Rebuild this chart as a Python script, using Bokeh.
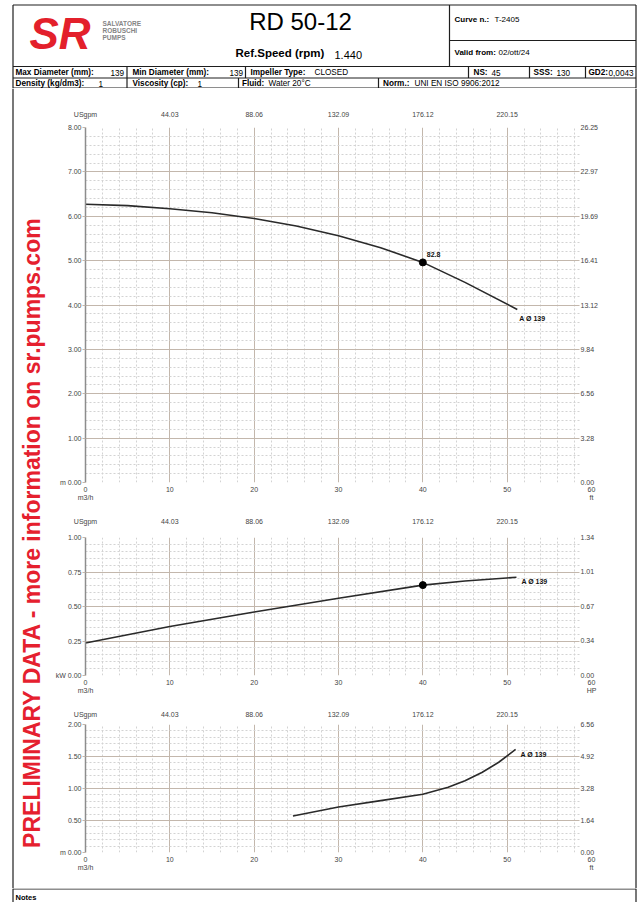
import math
from bokeh.plotting import figure
from bokeh.layouts import column, row
from bokeh.models import Range1d, FixedTicker, LinearAxis, Grid, BoxAnnotation, NumeralTickFormatter
from bokeh.embed import file_html
from bokeh.resources import INLINE
from bokeh.core.properties import value

# ---------------- data ----------------
flow_ticks = [0, 10, 20, 30, 40, 50, 60]              # m3/h
usgpm_ticks = [0, 44.03, 88.06, 132.09, 176.12, 220.15]  # USgpm (top axis)
usgpm_max = 264.18
head_ticks = [0, 1, 2, 3, 4, 5, 6, 7, 8]              # m
head_ft_ticks = [0.00, 3.28, 6.56, 9.84, 13.12, 16.41, 19.69, 22.97, 26.25]
power_ticks = [0, 0.25, 0.5, 0.75, 1.0]               # kW
power_hp_ticks = [0.00, 0.34, 0.67, 1.01, 1.34]
npsh_ticks = [0, 0.5, 1.0, 1.5, 2.0]                  # m
npsh_ft_ticks = [0.00, 1.64, 3.28, 4.92, 6.56]

head_q = [0, 5, 10, 15, 20, 25, 30, 35, 40, 45, 51.2]
head_m = [6.27, 6.24, 6.17, 6.08, 5.95, 5.78, 5.56, 5.29, 4.96, 4.51, 3.90]
power_q = [0, 10, 20, 30, 40, 45, 51.1]
power_kw = [0.235, 0.355, 0.46, 0.56, 0.655, 0.685, 0.712]
npsh_q = [24.6, 30, 35, 40, 43, 45, 47, 49, 51.0]
npsh_m = [0.57, 0.71, 0.81, 0.91, 1.02, 1.12, 1.25, 1.41, 1.61]
duty_q = [40]
duty_head = [4.96]
duty_power = [0.655]
duty_eff = ["82.8"]
curve_name = ["A Ø 139"]

title_text = "RD 50-12"
speed_label, speed_value = "Ref.Speed (rpm)", "1.440"
curve_label, curve_value = "Curve n.:", "T-2405"
valid_label, valid_value = "Valid from:", "02/ott/24"
row2_labels = ["Max Diameter (mm):", "Min Diameter (mm):", "Impeller Type:", "NS:", "SSS:", "GD2:"]
row2_values = ["139", "139", "CLOSED", "45", "130", "0,0043"]
row3_labels = ["Density (kg/dm3):", "Viscosity (cp):", "Fluid:", "Norm.:"]
row3_values = ["1", "1", "Water 20°C", "UNI EN ISO 9906:2012"]
logo_lines = ["SALVATORE", "ROBUSCHI", "PUMPS"]
watermark = "PRELIMINARY DATA - more information on sr.pumps.com"
notes_text = "Notes"

# ---------------- style ----------------
FONT_NAME = "Liberation Sans"
FONT = value(FONT_NAME)
BORDER = "#1e1e1e"
GRID_MAJOR = "#c3b7ac"
GRID_MINOR = "#d3d3d3"
LABEL_C = "#444444"
CURVE_C = "#2a2a2a"


def canvas(w, h, x0, x1, y0, y1):
    p = figure(width=w, height=h, x_range=Range1d(x0, x1), y_range=Range1d(y1, y0),
               min_border=0, toolbar_location=None, output_backend="svg",
               x_axis_location=None, y_axis_location=None, outline_line_color=None)
    p.xgrid.visible = False
    p.ygrid.visible = False
    return p


def txt(p, x, y, t, size="8px", bold=False, color="black", align="left", angle=0.0, style=None):
    p.text(x=x, y=y, text=t, text_font=FONT, text_font_size=size,
           text_font_style=style or ("bold" if bold else "normal"), text_color=color,
           text_align=align, text_baseline="middle", angle=angle)


# ---------------- header ----------------
L, R = 12.5, 635.5
hd = canvas(640, 88, 0, 640, 0, 88)
hd.segment(x0=[L, L, R, 449, 449, L, L, L], y0=[4.5, 4.5, 4.5, 4.5, 40, 66, 77.5, 87.5],
           x1=[R, L, R, 449, R, R, R, R], y1=[4.5, 88, 88, 66, 40, 66, 77.5, 87.5],
           line_color=BORDER, line_width=1.2)
hd.segment(x0=[126.5, 245, 468, 529, 585], y0=[66] * 5, x1=[126.5, 245, 468, 529, 585], y1=[77.5] * 5,
           line_color=BORDER, line_width=1.2)
hd.segment(x0=[126.5, 238, 378], y0=[77.5] * 3, x1=[126.5, 238, 378], y1=[87.5] * 3,
           line_color=BORDER, line_width=1.2)
# logo
txt(hd, [29], [33], ["SR"], size="44px", style="bold italic", color="#e3202b")
txt(hd, [102, 102, 102], [23, 30, 37], logo_lines, size="6.5px", bold=True, color="#858585")
# title block
txt(hd, [300], [21], [title_text], size="24px", align="center")
txt(hd, [235], [52], [speed_label], size="11.5px", bold=True)
txt(hd, [334], [54], [speed_value], size="11px")
txt(hd, [454], [19], [curve_label], size="8px", bold=True)
txt(hd, [494], [19], [curve_value], size="8px")
txt(hd, [454], [52], [valid_label], size="8px", bold=True)
txt(hd, [498], [52], [valid_value], size="8px")
txt(hd, [15, 132, 250, 473, 533, 588], [72] * 6, row2_labels, size="8.2px", bold=True)
txt(hd, [110, 229, 314, 491, 556, 608], [72] * 6, row2_values, size="8.2px")
txt(hd, [15, 132, 241.5, 382.5], [83] * 4, row3_labels, size="8.2px", bold=True)
txt(hd, [98, 197, 268, 414], [83] * 4, row3_values, size="8.2px")

# ---------------- watermark + right border ----------------
wm = canvas(50, 800, 0, 50, 88, 888)
wm.segment(x0=[L], y0=[88], x1=[L], y1=[888], line_color=BORDER, line_width=1.2)
txt(wm, [31], [532], [watermark], size="23px", bold=True, color="#e5202e", align="center", angle=math.pi / 2)

rb = canvas(8, 800, 632, 640, 88, 888)
rb.segment(x0=[R], y0=[88], x1=[R], y1=[888], line_color=BORDER, line_width=1.2)


# ---------------- charts ----------------
def chart(height, b_top, b_bottom, y_ticks, right_ticks, left_unit, right_unit, top_standoff):
    y_end = y_ticks[-1]
    step = y_ticks[1] - y_ticks[0]
    p = figure(width=582, height=height, x_range=Range1d(0, 60), y_range=Range1d(0, y_end),
               min_border_left=35, min_border_right=41, min_border_top=b_top, min_border_bottom=b_bottom,
               x_axis_location=None, y_axis_location=None, toolbar_location=None,
               output_backend="svg", outline_line_color=None)
    p.xgrid.visible = False
    p.ygrid.visible = False
    p.extra_x_ranges = {"gpm": Range1d(0, usgpm_max)}
    p.extra_y_ranges = {"right": Range1d(0, right_ticks[-1])}

    minor_x = [v for v in range(2, 60, 2) if v % 10]
    minor_y = [round(i * step / 5, 4) for i in range(1, int(round(y_end / step * 5))) if i % 5]
    xg = Grid(dimension=0, ticker=FixedTicker(ticks=flow_ticks, minor_ticks=minor_x),
              grid_line_color=GRID_MAJOR, grid_line_width=1,
              minor_grid_line_color=GRID_MINOR, minor_grid_line_dash="2 2")
    yg = Grid(dimension=1, ticker=FixedTicker(ticks=y_ticks, minor_ticks=minor_y),
              grid_line_color=GRID_MAJOR, grid_line_width=1,
              minor_grid_line_color=GRID_MINOR, minor_grid_line_dash="2 2")
    p.add_layout(xg)
    p.add_layout(yg)
    try:
        yg.cross_bounds = (0, 58.6)
    except Exception:
        p.add_layout(BoxAnnotation(left=58.6, fill_color="white", fill_alpha=1,
                                   line_color=None, level="underlay"))

    lab = dict(major_label_text_font=FONT_NAME, major_label_text_font_size="7px",
               major_label_text_color=LABEL_C, minor_tick_line_color=None)
    ax_l = LinearAxis(ticker=FixedTicker(ticks=y_ticks), formatter=NumeralTickFormatter(format="0.00"),
                      axis_line_color="#8d8d8d", axis_line_width=1.5, major_tick_out=3, major_tick_in=0,
                      major_tick_line_color=GRID_MAJOR, major_label_standoff=1,
                      major_label_overrides={0: left_unit + " 0.00"}, **lab)
    ax_r = LinearAxis(y_range_name="right", ticker=FixedTicker(ticks=right_ticks),
                      formatter=NumeralTickFormatter(format="0.00"), axis_line_color=None,
                      major_tick_line_color=None, major_tick_out=0, major_tick_in=0,
                      major_label_standoff=-11, **lab)
    ax_b = LinearAxis(ticker=FixedTicker(ticks=flow_ticks), formatter=NumeralTickFormatter(format="0"),
                      axis_line_color=None, major_tick_line_color=None, major_tick_out=0,
                      major_tick_in=0, major_label_standoff=3,
                      major_label_overrides={0: "0\nm3/h", 60: "60\n" + right_unit}, **lab)
    ax_t = LinearAxis(x_range_name="gpm", ticker=FixedTicker(ticks=usgpm_ticks),
                      formatter=NumeralTickFormatter(format="0.00"), axis_line_color=None,
                      major_tick_line_color=None, major_tick_out=0, major_tick_in=0,
                      major_label_standoff=top_standoff, major_label_overrides={0: "USgpm"}, **lab)
    p.add_layout(ax_l, "left")
    p.add_layout(ax_r, "right")
    p.add_layout(ax_b, "below")
    p.add_layout(ax_t, "above")
    return p


bold7 = dict(text_font=FONT, text_font_size="7px", text_font_style="bold", text_color="#111111",
             text_baseline="middle")

c1 = chart(422, 39, 28, head_ticks, head_ft_ticks, "m", "ft", 10)
c1.line(head_q, head_m, line_color=CURVE_C, line_width=1.6)
c1.scatter(duty_q, duty_head, size=7, color="black")
c1.text(x=duty_q, y=duty_head, text=duty_eff, x_offset=4, y_offset=-8, **bold7)
c1.text(x=head_q[-1:], y=head_m[-1:], text=curve_name, x_offset=2, y_offset=9, **bold7)

c2 = chart(193, 27, 28, power_ticks, power_hp_ticks, "kW", "HP", 13)
c2.line(power_q, power_kw, line_color=CURVE_C, line_width=1.6)
c2.scatter(duty_q, duty_power, size=7, color="black")
c2.text(x=power_q[-1:], y=power_kw[-1:], text=curve_name, x_offset=5, y_offset=4, **bold7)

c3 = chart(185, 21, 36, npsh_ticks, npsh_ft_ticks, "m", "ft", 7)
c3.line(npsh_q, npsh_m, line_color=CURVE_C, line_width=1.6)
c3.text(x=npsh_q[-1:], y=npsh_m[-1:], text=curve_name, x_offset=5, y_offset=5, **bold7)

# ---------------- notes ----------------
nt = canvas(640, 14, 0, 640, 888, 902)
nt.segment(x0=[L, L, R], y0=[888.5, 888, 888], x1=[R, L, R], y1=[888.5, 902, 902],
           line_color=BORDER, line_width=1.2)
txt(nt, [15], [897], [notes_text], size="7.5px", bold=True)

layout = column(hd, row(wm, column(c1, c2, c3, spacing=0), rb, spacing=0), nt, spacing=0)
open("out.html", "w").write(file_html(layout, INLINE, "RD 50-12"))
